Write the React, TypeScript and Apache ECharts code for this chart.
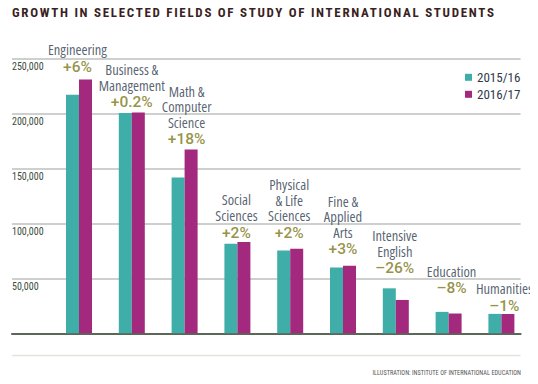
import React, { useEffect, useRef } from "react";
import * as echarts from "echarts";

const categories = [
  "Engineering",
  "Business &\nManagement",
  "Math &\nComputer\nScience",
  "Social\nSciences",
  "Physical\n& Life\nSciences",
  "Fine &\nApplied\nArts",
  "Intensive\nEnglish",
  "Education",
  "Humanities",
];
const y2015 = [216932, 200312, 141651, 81304, 75385, 59736, 40877, 19483, 17664];
const y2016 = [230711, 200754, 167180, 83046, 76838, 61506, 30309, 17993, 17516];
const changes = ["+6%", "+0.2%", "+18%", "+2%", "+2%", "+3%", "–26%", "–8%", "–1%"];
const yTicks = [0, 50000, 100000, 150000, 200000, 250000];

// label nudges (layout only, px): [dx, dy]
const labelNudge = [
  [-1.5, -2.5],
  [0, 0],
  [2, 0],
  [-1, 0.7],
  [-1, -6],
  [0, -6.3],
  [-1, -10],
  [3, -13.6],
  [3, 2],
];

const TEAL = "#40aea8";
const MAGENTA = "#a2297e";
const COND = "'Roboto Condensed', sans-serif";
const NARROW = "'Open Sans';font-stretch:75%";

export default function App() {
  const ref = useRef<HTMLDivElement>(null);
  useEffect(() => {
    if (!ref.current) return;
    const chart = echarts.init(ref.current, undefined, { renderer: "svg" });
    const labelData = y2015.map((v, i) => ({
      value: Math.max(v, y2016[i]),
      label: { offset: labelNudge[i] },
    }));
    chart.setOption({
      animation: false,
      backgroundColor: "#ffffff",
      title: {
        text: "GROWTH IN SELECTED FIELDS OF STUDY OF INTERNATIONAL STUDENTS",
        left: 12,
        top: 7.5,
        padding: [0, 0, 0, 0],
        textStyle: {
          fontFamily: "'Roboto Condensed';letter-spacing:1.7px",
          fontSize: 13,
          fontWeight: "bold",
          color: "#3b1f23",
        },
      },
      legend: {
        orient: "vertical",
        left: 465,
        top: 70.3,
        padding: 0,
        itemWidth: 7,
        itemHeight: 7,
        itemGap: 3,
        icon: "rect",
        data: ["2015/16", "2016/17"],
        textStyle: { fontFamily: COND, fontSize: 13, color: "#2e3a4c", lineHeight: 14 },
      },
      grid: [
        { left: 12, right: 17.4, top: 58.3, bottom: 50.7 },
        { left: 52.6, right: 10.2, top: 58.3, bottom: 50.7 },
      ],
      xAxis: [
        {
          type: "value",
          gridIndex: 0,
          min: 0,
          max: 1,
          axisLine: { show: true, onZero: false, lineStyle: { color: "#5b6759", width: 2 } },
          axisTick: { show: false },
          axisLabel: { show: false },
          splitLine: { show: false },
        },
        {
          type: "category",
          gridIndex: 1,
          data: categories,
          axisLine: { show: false },
          axisTick: { show: false },
          axisLabel: { show: false },
        },
      ],
      yAxis: [
        {
          type: "value",
          gridIndex: 0,
          min: yTicks[0],
          max: yTicks[yTicks.length - 1],
          interval: 50000,
          axisLine: { show: false },
          axisTick: { show: false },
          splitLine: { lineStyle: { color: "#bcc1bc", width: 1.5 } },
          axisLabel: {
            inside: true,
            margin: 0,
            verticalAlign: "top",
            padding: [3, 0, 0, 0],
            fontFamily: COND,
            fontSize: 10,
            color: "#3b4a3d",
            formatter: (v: number) => (v === 0 ? "" : v.toLocaleString("en-US")),
          },
        },
        {
          type: "value",
          gridIndex: 1,
          min: yTicks[0],
          max: yTicks[yTicks.length - 1],
          interval: 50000,
          show: false,
          splitLine: { show: false },
        },
      ],
      series: [
        {
          name: "2015/16",
          type: "bar",
          xAxisIndex: 1,
          yAxisIndex: 1,
          data: y2015,
          barWidth: 13,
          barGap: "0%",
          itemStyle: { color: TEAL },
          z: 3,
        },
        {
          name: "2016/17",
          type: "bar",
          xAxisIndex: 1,
          yAxisIndex: 1,
          data: y2016,
          barWidth: 13,
          itemStyle: { color: MAGENTA },
          z: 3,
        },
        {
          name: "labels",
          type: "scatter",
          xAxisIndex: 1,
          yAxisIndex: 1,
          symbolSize: 0,
          data: labelData,
          silent: true,
          z: 5,
          label: {
            show: true,
            position: "top",
            distance: 0.5,
            formatter: (p: any) => {
              const name = categories[p.dataIndex]
                .split("\n")
                .map((l) => `{n|${l}}`)
                .join("\n");
              return `${name}\n{p|${changes[p.dataIndex]}}`;
            },
            rich: {
              n: {
                fontFamily: NARROW,
                fontSize: 14.5,
                lineHeight: 15.5,
                color: "#2d3a4e",
                align: "center",
              },
              p: {
                fontFamily: "Roboto, sans-serif",
                fontSize: 15.5,
                fontWeight: 500,
                lineHeight: 19,
                color: "#7b7714",
                align: "center",
              },
            },
          },
        },
      ],
      graphic: [
        {
          type: "line",
          shape: { x1: 12, y1: 355.5, x2: 520.6, y2: 355.5 },
          style: { stroke: "#e3e3dc", lineWidth: 1.5 },
        },
        {
          type: "text",
          right: 17,
          top: 369.5,
          style: {
            text: "ILLUSTRATION: INSTITUTE OF INTERNATIONAL EDUCATION",
            fontFamily: COND,
            fontSize: 6.3,
            fill: "#555555",
          },
        },
      ],
    });
    return () => chart.dispose();
  }, []);
  return <div ref={ref} style={{ width: 538, height: 384, marginLeft: -8, marginTop: -8 }} />;
}
